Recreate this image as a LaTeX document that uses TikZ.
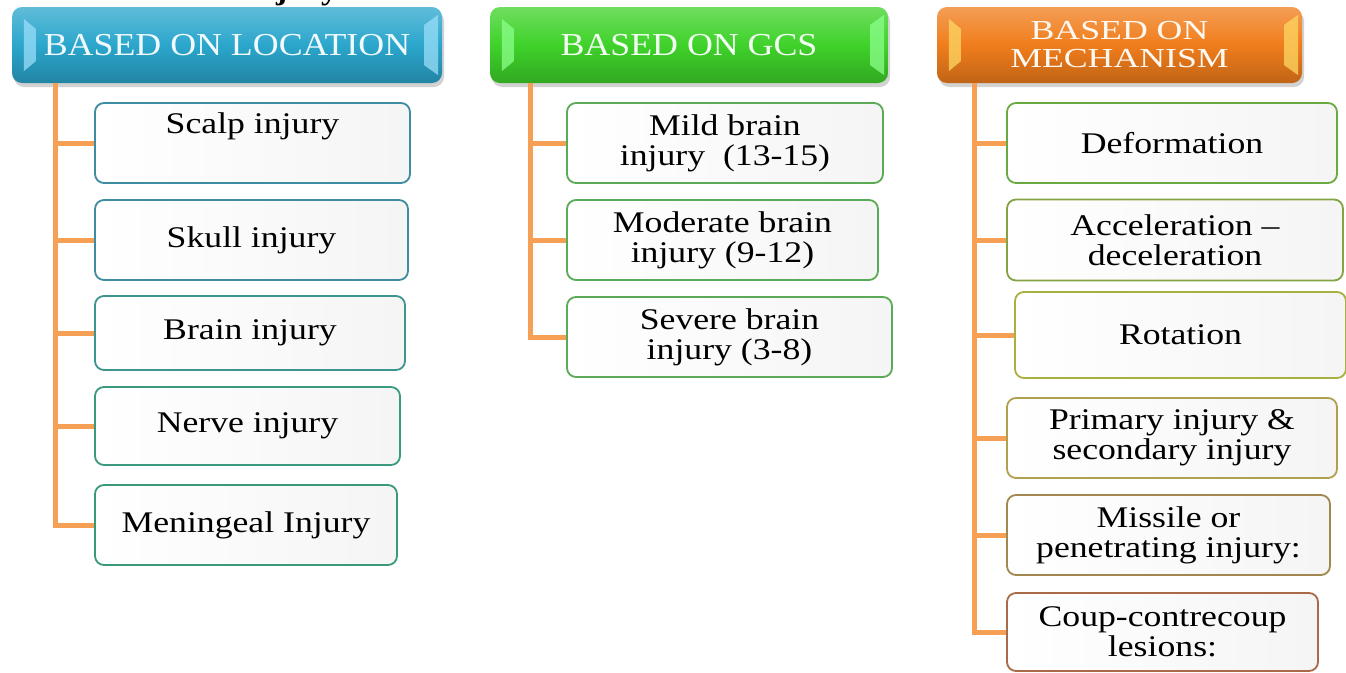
\documentclass[tikz,border=0pt]{standalone}
\usepackage{fontspec}
\setmainfont{Liberation Serif}
\newfontfamily\kidfont{Liberation Serif}[FakeStretch=1.19,Ligatures=TeX]
\newfontfamily\hAfont{Liberation Serif}[FakeStretch=1.12]
\newfontfamily\hBfont{Liberation Serif}[FakeStretch=1.12]
\newfontfamily\hCfont{Liberation Serif}[FakeStretch=1.30]
\usetikzlibrary{shadows}
\definecolor{trunkc}{HTML}{F5A055}
\definecolor{hblue}{HTML}{2BA6CC}
\definecolor{hgreen}{HTML}{3FD22A}
\definecolor{horange}{HTML}{F07D1C}
\definecolor{bA}{HTML}{3E8CA0}
\definecolor{bB}{HTML}{3E9590}
\definecolor{bC}{HTML}{3A9A80}
\definecolor{bD}{HTML}{3A9A75}
\definecolor{gB}{HTML}{5BAA55}
\definecolor{mA}{HTML}{6AAA40}
\definecolor{mB}{HTML}{84A444}
\definecolor{mC}{HTML}{AAB040}
\definecolor{mD}{HTML}{B0A050}
\definecolor{mE}{HTML}{A08850}
\definecolor{mF}{HTML}{A86A48}
\tikzset{
  hdr/.style={rounded corners=10pt, draw=none, inner sep=0pt, align=center,
    top color=#1!75!white, bottom color=#1!80!black, middle color=#1,
    drop shadow={shadow xshift=2pt, shadow yshift=-4pt, opacity=0.35}},
  kid/.style={draw=#1, line width=1.8pt, rounded corners=9pt, inner sep=0pt,
    left color=white, right color=black!4, align=center, text=black,
    font={\kidfont\fontsize{30pt}{30pt}\selectfont}},
  trunk/.style={draw=trunkc, line width=5pt},
  bevel/.style={fill=#1, opacity=0.75}
}
\begin{document}
\begin{tikzpicture}[x=1pt,y=-1pt]
\useasboundingbox[fill=white] (0,0) rectangle (1346,672);
% cut-off title fragment
\begin{scope}
\clip (0,0) rectangle (1346,672);
\node[anchor=base west, inner sep=0pt, font={\hBfont\bfseries\fontsize{30pt}{30pt}\selectfont}] (ttl) at (248,-0.5) {injury};
\end{scope}
% headers
\node[hdr=hblue, minimum width=430pt, minimum height=76pt, text=cyan!6,
  font={\hAfont\fontsize{32pt}{36pt}\selectfont}] (h1) at (227,45) {BASED ON LOCATION};
\node[hdr=hgreen, minimum width=398pt, minimum height=76pt, text=green!5,
  font={\hBfont\fontsize{32pt}{36pt}\selectfont}] (h2) at (689,45) {BASED ON GCS};
\node[hdr=horange, minimum width=365pt, minimum height=76pt, text=orange!5,
  font={\hCfont\fontsize{27.5pt}{28pt}\selectfont}] (h3) at (1119.5,45) {BASED ON\\MECHANISM};
% bevels
\foreach \h/\c in {h1/cyan!40!white, h2/green!45!white, h3/yellow!55!orange!60!white}{
  \fill[bevel=\c] ([xshift=12pt,yshift=-12pt]\h.north west) -- ([xshift=24pt,yshift=-22pt]\h.north west)
     -- ([xshift=24pt,yshift=22pt]\h.south west) -- ([xshift=12pt,yshift=12pt]\h.south west) -- cycle;
  \fill[bevel=\c] ([xshift=-4pt,yshift=-8pt]\h.north east) -- ([xshift=-18pt,yshift=-18pt]\h.north east)
     -- ([xshift=-18pt,yshift=18pt]\h.south east) -- ([xshift=-4pt,yshift=8pt]\h.south east) -- cycle;
}
% column 1
\node[kid=bA, minimum width=315pt, minimum height=80pt] (scalp) at (252.5,143) {Scalp injury\\[10pt]~};
\node[kid=bA, minimum width=313pt, minimum height=80pt] (skull) at (251.5,240) {Skull injury};
\node[kid=bB, minimum width=310pt, minimum height=74pt] (brain) at (250,333) {Brain injury};
\node[kid=bC, minimum width=305pt, minimum height=78pt] (nerve) at (247.5,426) {Nerve injury};
\node[kid=bD, minimum width=302pt, minimum height=80pt] (mening) at (246,525) {Meningeal Injury};
% column 2
\node[kid=gB, minimum width=316pt, minimum height=80pt] (mild) at (725,143) {Mild brain\\injury\ \ (13-15)};
\node[kid=gB, minimum width=311pt, minimum height=80pt] (moder) at (722.5,240) {Moderate brain\\injury (9-12)};
\node[kid=gB, minimum width=325pt, minimum height=80pt] (severe) at (729.5,337) {Severe brain\\injury (3-8)};
% column 3
\node[kid=mA, minimum width=330pt, minimum height=80pt] (deform) at (1172,143) {Deformation};
\node[kid=mB, minimum width=336pt, minimum height=81pt] (accel) at (1175,240) {Acceleration \textendash\\deceleration};
\node[kid=mC, minimum width=331pt, minimum height=86pt] (rot) at (1180.5,335) {Rotation};
\node[kid=mD, minimum width=330pt, minimum height=80pt] (prim) at (1172,438) {Primary injury \&\\secondary injury};
\node[kid=mE, minimum width=323pt, minimum height=80pt] (miss) at (1168.5,535) {Missile or\\penetrating injury:};
\node[kid=mF, minimum width=311pt, minimum height=78pt] (coup) at (1162.5,632) {Coup-contrecoup\\lesions:};
% trunks
\coordinate (t1) at (55,83);
\coordinate (t2) at (530,83);
\coordinate (t3) at (974,83);
\draw[trunk] (t1) |- (mening.west);
\foreach \n in {scalp,skull,brain,nerve}{\draw[trunk] (t1 |- \n.west) -- (\n.west);}
\draw[trunk] (t2) |- (severe.west);
\foreach \n in {mild,moder}{\draw[trunk] (t2 |- \n.west) -- (\n.west);}
\draw[trunk] (t3) |- (coup.west);
\foreach \n in {deform,accel,rot,prim,miss}{\draw[trunk] (t3 |- \n.west) -- (\n.west);}
\end{tikzpicture}
\end{document}
